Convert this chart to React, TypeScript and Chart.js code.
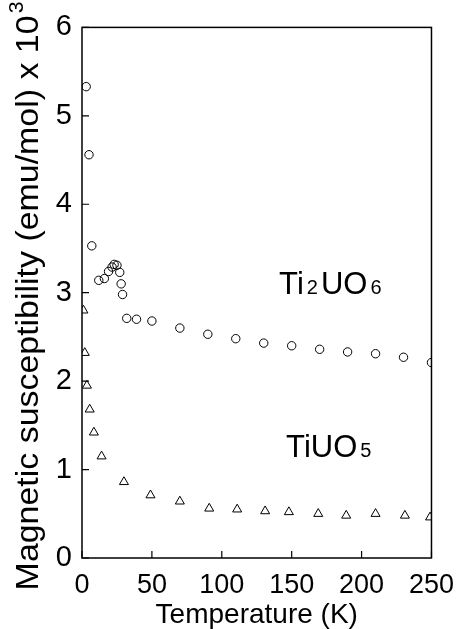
import React, { useEffect, useRef } from "react";
import { Chart, registerables } from "chart.js";

Chart.register(...registerables);

// Ti2UO6 (circles)
const tempTi2UO6 = [3, 5, 7, 12, 16, 19, 21.5, 23, 25, 27, 28, 29, 32, 39, 50, 70, 90, 110, 130, 150, 170, 190, 210, 230, 250];
const chiTi2UO6 = [5.33, 4.56, 3.53, 3.14, 3.16, 3.24, 3.29, 3.32, 3.31, 3.23, 3.1, 2.98, 2.71, 2.7, 2.68, 2.6, 2.53, 2.48, 2.43, 2.4, 2.36, 2.33, 2.31, 2.27, 2.21];

// TiUO5 (triangles)
const tempTiUO5 = [1, 2, 3.5, 5.5, 8.5, 14, 30, 49, 70, 91, 111, 131, 148, 169, 189, 210, 231, 249];
const chiTiUO5 = [2.8, 2.32, 1.95, 1.68, 1.42, 1.15, 0.86, 0.71, 0.64, 0.56, 0.55, 0.53, 0.52, 0.5, 0.48, 0.5, 0.48, 0.46];

const xTicks = [0, 50, 100, 150, 200, 250];
const yTicks = [0, 1, 2, 3, 4, 5, 6];

const FONT = "'Liberation Sans', Arial, Helvetica, sans-serif";

type Part = [string, boolean];
const labelTi2UO6: Part[] = [["Ti", false], ["2", true], ["UO", false], ["6", true]];
const labelTiUO5: Part[] = [["TiUO", false], ["5", true]];

function drawFormula(ctx: CanvasRenderingContext2D, parts: Part[], x: number, yBase: number, big: number, small: number) {
  let cx = x;
  ctx.textBaseline = "alphabetic";
  ctx.textAlign = "left";
  for (const [s, sub] of parts) {
    ctx.font = `${sub ? small : big}px ${FONT}`;
    const pad = sub ? 3 : 0;
    ctx.fillText(s, cx + pad, yBase);
    cx += ctx.measureText(s).width + pad * 2;
  }
}

const framePlugin = {
  id: "frame",
  afterDraw(chart: any) {
    const { ctx, chartArea: a, scales } = chart;
    const xs = scales.x;
    const ys = scales.y;
    ctx.save();
    ctx.strokeStyle = "#000";
    ctx.lineWidth = 1.5;
    ctx.strokeRect(a.left, a.top, a.right - a.left, a.bottom - a.top);
    ctx.lineWidth = 1.2;
    ctx.beginPath();
    for (const v of xTicks) {
      const px = xs.getPixelForValue(v);
      ctx.moveTo(px, a.bottom);
      ctx.lineTo(px, a.bottom - 7);
    }
    for (const v of yTicks) {
      const py = ys.getPixelForValue(v);
      ctx.moveTo(a.left, py);
      ctx.lineTo(a.left + 7, py);
    }
    ctx.stroke();

    ctx.fillStyle = "#000";
    drawFormula(ctx, labelTi2UO6, xs.getPixelForValue(141), ys.getPixelForValue(2.98), 31, 20);
    drawFormula(ctx, labelTiUO5, xs.getPixelForValue(146), ys.getPixelForValue(1.14), 31, 20);

    // y axis title with superscript
    ctx.save();
    ctx.translate(38, 297);
    ctx.rotate(-Math.PI / 2);
    ctx.scale(1.06, 1);
    const main = "Magnetic susceptibility (emu/mol) x 10";
    ctx.font = `32px ${FONT}`;
    const w1 = ctx.measureText(main).width;
    ctx.font = `20px ${FONT}`;
    const w2 = ctx.measureText("3").width;
    const start = -(w1 + w2) / 2;
    ctx.textAlign = "left";
    ctx.textBaseline = "alphabetic";
    ctx.font = `32px ${FONT}`;
    ctx.fillText(main, start, 0);
    ctx.font = `20px ${FONT}`;
    ctx.fillText("3", start + w1 + 2, -15);
    ctx.restore();

    ctx.restore();
  },
};

export default function App() {
  const ref = useRef<HTMLCanvasElement>(null);
  useEffect(() => {
    if (!ref.current) return;
    const chart = new Chart(ref.current, {
      type: "scatter",
      data: {
        datasets: [
          {
            label: "Ti2UO6",
            data: tempTi2UO6.map((t, i) => ({ x: t, y: chiTi2UO6[i] })),
            pointStyle: "circle",
            pointRadius: 4.2,
            borderColor: "#000",
            backgroundColor: "rgba(0,0,0,0)",
            borderWidth: 1,
          },
          {
            label: "TiUO5",
            data: tempTiUO5.map((t, i) => ({ x: t, y: chiTiUO5[i] })),
            pointStyle: "triangle",
            pointRadius: 5.2,
            borderColor: "#000",
            backgroundColor: "rgba(0,0,0,0)",
            borderWidth: 1,
          },
        ],
      },
      options: {
        animation: false,
        responsive: false,
        devicePixelRatio: 1,
        layout: { padding: { top: 27, right: 27, left: 0, bottom: 0 } },
        plugins: { legend: { display: false }, tooltip: { enabled: false } },
        scales: {
          x: {
            type: "linear",
            min: 0,
            max: 250,
            afterFit: (s: any) => {
              s.height = 71;
            },
            afterBuildTicks: (s: any) => {
              s.ticks = xTicks.map((v) => ({ value: v }));
            },
            grid: { display: false, drawTicks: false },
            border: { display: false },
            ticks: {
              color: "#000",
              padding: 11,
              font: { family: FONT, size: 27 },
              maxRotation: 0,
            },
            title: {
              display: true,
              text: "Temperature (K)",
              color: "#000",
              font: { family: FONT, size: 28, lineHeight: 1.0 },
              padding: { top: 0, bottom: 0 },
            },
          },
          y: {
            type: "linear",
            min: 0,
            max: 6,
            afterFit: (s: any) => {
              s.width = 82;
            },
            afterBuildTicks: (s: any) => {
              s.ticks = yTicks.map((v) => ({ value: v }));
            },
            grid: { display: false, drawTicks: false },
            border: { display: false },
            ticks: {
              color: "#000",
              padding: 10,
              font: { family: FONT, size: 29 },
            },
          },
        },
      },
      plugins: [framePlugin],
    });
    return () => chart.destroy();
  }, []);
  return (
    <div style={{ position: "fixed", left: 0, top: 0, width: 465, height: 629, background: "#fff" }}>
      <canvas ref={ref} width={465} height={629} style={{ width: 465, height: 629 }} />
    </div>
  );
}
